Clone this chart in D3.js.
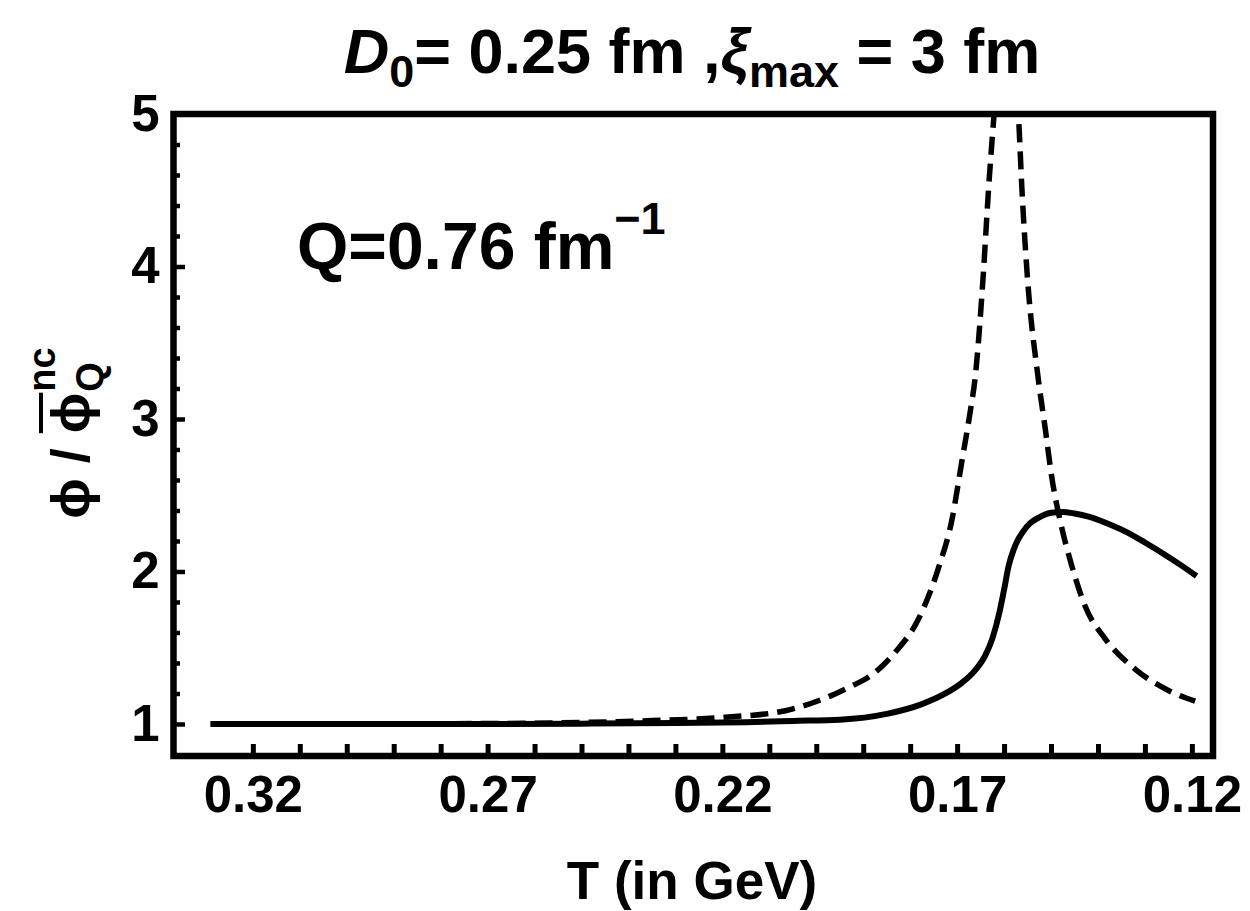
<!DOCTYPE html>
<html><head><meta charset="utf-8">
<script src="https://cdn.jsdelivr.net/npm/d3@7"></script>
<style>
body{margin:0;background:#fff;}
svg text{font-family:"Liberation Sans",Arial,sans-serif;font-weight:bold;fill:#000;white-space:pre;}
</style></head><body>
<svg id="chart" width="1250" height="911"></svg>
<script>
// ---- data ----
const solidT = [0.329, 0.30, 0.27, 0.25, 0.23, 0.215, 0.205, 0.195, 0.185, 0.1775, 0.1725, 0.169, 0.1665, 0.164, 0.1625, 0.161, 0.160, 0.159, 0.158, 0.157, 0.156, 0.1545, 0.1525, 0.150, 0.1475, 0.145, 0.142, 0.138, 0.134, 0.130, 0.126, 0.1225, 0.119];
const solidY = [1.0, 1.0, 1.0, 1.002, 1.006, 1.012, 1.02, 1.028, 1.066, 1.13, 1.2, 1.27, 1.34, 1.45, 1.56, 1.73, 1.88, 2.04, 2.14, 2.21, 2.26, 2.315, 2.355, 2.385, 2.39, 2.38, 2.36, 2.315, 2.26, 2.19, 2.115, 2.045, 1.97];
const dashedT = [0.329, 0.30, 0.27, 0.25, 0.235, 0.2194, 0.2066, 0.196, 0.1917, 0.1889, 0.1832, 0.1782, 0.174, 0.1711, 0.169, 0.1672, 0.1662, 0.1644, 0.1633, 0.1622, 0.1608, 0.1595, 0.1582, 0.1569, 0.1562, 0.1551, 0.1527, 0.1512, 0.1498, 0.1481, 0.1456, 0.1427, 0.1385, 0.1321, 0.125, 0.1193];
const dashedY = [1.0, 1.0, 1.003, 1.01, 1.022, 1.044, 1.087, 1.197, 1.26, 1.306, 1.47, 1.69, 2.02, 2.34, 2.72, 3.05, 3.26, 3.96, 4.51, 4.97, 5.5, 5.8, 5.5, 4.97, 4.51, 3.96, 3.26, 2.93, 2.61, 2.34, 2.04, 1.77, 1.56, 1.36, 1.22, 1.15];
const xTickValues = [0.32,0.31,0.30,0.29,0.28,0.27,0.26,0.25,0.24,0.23,0.22,0.21,0.20,0.19,0.18,0.17,0.16,0.15,0.14,0.13,0.12];
const xTickLabels = ["0.32","0.27","0.22","0.17","0.12"];
const yMajorTicks = [1,2,3,4,5];
const yTickLabels = ["1","2","3","4","5"];
const yMinorTicks = [1.2,1.4,1.6,1.8,2.2,2.4,2.6,2.8,3.2,3.4,3.6,3.8,4.2,4.4,4.6,4.8];
const xDomain = [0.3369, 0.1155];
const yDomain = [0.79, 5];

// ---- layout ----
const L = 173.5, R = 1213, T = 114, B = 756;
const svg = d3.select("#chart");
const x = d3.scaleLinear().domain(xDomain).range([L, R]);
const y = d3.scaleLinear().domain(yDomain).range([B, T]);

svg.append("defs").append("clipPath").attr("id","clip")
  .append("rect").attr("x",L).attr("y",T).attr("width",R-L).attr("height",B-T);

// curves
const line = d3.line().x(d=>x(d[0])).y(d=>y(d[1])).curve(d3.curveMonotoneX);
const solid = solidT.map((t,i)=>[t, solidY[i]]);
const dashed = dashedT.map((t,i)=>[t, dashedY[i]]);
const plot = svg.append("g").attr("clip-path","url(#clip)");
plot.append("path").datum(dashed).attr("d",line).attr("fill","none")
  .attr("stroke","#000").attr("stroke-width",5.5).attr("stroke-dasharray","18,9");
plot.append("path").datum(solid).attr("d",line).attr("fill","none")
  .attr("stroke","#000").attr("stroke-width",6);

// x axis
const fmtX = d => { const s = d.toFixed(2); return xTickLabels.includes(s) ? s : ""; };
const xa = svg.append("g").attr("transform",`translate(0,${B})`)
  .call(d3.axisBottom(x).tickValues(xTickValues).tickSize(-12).tickPadding(20).tickFormat(fmtX));
xa.select(".domain").remove();
xa.selectAll("line").attr("stroke","#000").attr("stroke-width",5);
xa.selectAll("text").attr("font-size",51).attr("font-family",null);

// y axis major
const ya = svg.append("g").attr("transform",`translate(${L},0)`)
  .call(d3.axisLeft(y).tickValues(yMajorTicks).tickSize(-11.5).tickPadding(14).tickFormat((d,i)=>yTickLabels[i]));
ya.select(".domain").remove();
ya.selectAll("line").attr("stroke","#000").attr("stroke-width",4.5);
ya.selectAll("text").attr("font-size",51).attr("font-family",null);
// y axis minor
const ym = svg.append("g").attr("transform",`translate(${L},0)`)
  .call(d3.axisLeft(y).tickValues(yMinorTicks).tickSize(-6.5).tickFormat(""));
ym.select(".domain").remove();
ym.selectAll("line").attr("stroke","#000").attr("stroke-width",4.5);

// frame
svg.append("rect").attr("x",L).attr("y",T).attr("width",R-L).attr("height",B-T)
  .attr("fill","none").attr("stroke","#000").attr("stroke-width",6.5);

// title
const title = svg.append("text").attr("x",692).attr("y",73).attr("text-anchor","middle").attr("font-size",63);
title.append("tspan").attr("font-style","italic").text("D");
title.append("tspan").attr("font-size",45).attr("dy",14).text("0");
title.append("tspan").attr("dy",-14).text("= 0.25 fm ,");
title.append("tspan").attr("font-style","italic").text("ξ");
title.append("tspan").attr("font-size",45).attr("dy",14).text("max");
title.append("tspan").attr("dy",-14).text(" = 3 fm");

// annotation
const ann = svg.append("text").attr("x",297).attr("y",269).attr("font-size",66);
ann.append("tspan").text("Q=0.76 fm");
ann.append("tspan").attr("font-size",45).attr("dy",-35).text("\u22121");

// x label
svg.append("text").attr("x",692).attr("y",899).attr("text-anchor","middle").attr("font-size",53).text("T (in GeV)");

// y label
const yl = svg.append("g").attr("transform","translate(89,433) rotate(-90)");
const inner = yl.append("g");
const t1 = inner.append("text").attr("font-size",54).text("\u03D5 / ");
const w1 = t1.node().getComputedTextLength();
const t2 = inner.append("text").attr("font-size",54).attr("x",w1).text("\u03D5");
const w2 = t2.node().getComputedTextLength();
inner.append("line").attr("x1",w1).attr("x2",w1+w2).attr("y1",-48).attr("y2",-48)
  .attr("stroke","#000").attr("stroke-width",4);
const sQ = inner.append("text").attr("font-size",38).attr("x",w1+w2+1).attr("y",14).text("Q");
const sN = inner.append("text").attr("font-size",38).attr("x",w1+w2+1).attr("y",-34).text("nc");
const wS = Math.max(sQ.node().getComputedTextLength(), sN.node().getComputedTextLength());
inner.attr("transform",`translate(${-(w1+w2+1+wS)/2},0)`);
</script>
</body></html>
